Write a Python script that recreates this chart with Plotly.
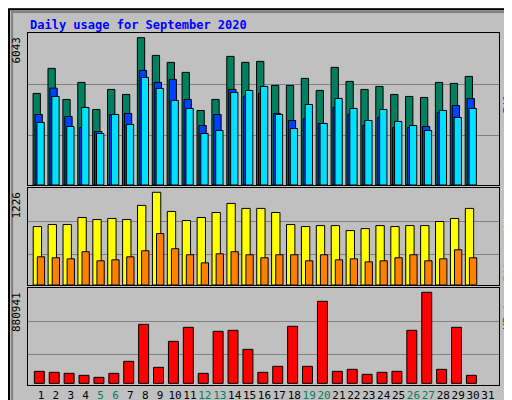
import plotly.graph_objects as go
from plotly.subplots import make_subplots

days = list(range(1, 32))
d30 = list(range(1, 31))
hits = [3757,4784,3510,4209,3099,3921,3715,6043,5318,5031,4620,3058,3510,5277,5031,5072,4085,4085,4373,3880,4825,4250,3921,4044,3715,3633,3592,4209,4168,4455]
files = [2893,3974,2811,2359,2195,2893,2935,4702,4209,4332,3510,2441,2893,3921,3646,3757,2935,2647,2729,2524,3181,2893,2441,2770,2359,2359,2400,2976,3263,3551]
pages = [2565,3633,2400,3181,2113,2893,2482,4414,3962,3469,3140,2113,2236,3798,3880,4044,2893,2318,3304,2524,3551,3140,2647,3099,2606,2441,2236,3058,2770,3140]
visits = [773,800,800,893,866,880,866,1053,1226,973,853,893,959,1079,1013,1013,959,800,773,786,786,720,746,786,773,786,786,840,880,1013]
sites = [373,360,346,440,320,333,373,453,680,480,400,293,413,440,400,360,400,400,320,400,333,346,306,320,360,400,320,346,466,360]
kbytes = [116172,106491,96810,77448,58086,96810,212982,571179,154896,406602,542136,96810,503412,513093,329154,106491,164577,551817,164577,793842,116172,135534,87129,106491,116172,513093,880941,135534,542136,77448]
weekend = {5, 6, 12, 13, 19, 20, 26, 27}

fig = make_subplots(rows=3, cols=1, vertical_spacing=0.0)
line = dict(color="black", width=1)
def bar(y, color, off, w, row):
    fig.add_trace(go.Bar(x=d30, y=y, offset=off, width=w, marker=dict(color=color, line=line)), row=row, col=1)

bar(hits, "#008060", -0.53, 0.49, 1)
bar(files, "#0040FF", -0.40, 0.49, 1)
bar(pages, "#00E0FF", -0.27, 0.49, 1)
bar(visits, "#FFFF00", -0.52, 0.56, 2)
bar(sites, "#FF8000", -0.245, 0.49, 2)
bar(kbytes, "#FF0000", -0.445, 0.67, 3)

doms = [(0.5575, 0.9375), (0.3075, 0.55), (0.0575, 0.30)]
ranges = [[0, 6236], [0, 1283], [-16000, 922600]]
grids = [[2043, 4140], [400, 840], [280740, 600200]]
maxlab = ["6043", "1226", "880941"]
ticktext = [f"<span style='color:#008060'>{d}</span>" if d in weekend else str(d) for d in days]
for i in range(3):
    xa = "xaxis" if i == 0 else f"xaxis{i+1}"
    ya = "yaxis" if i == 0 else f"yaxis{i+1}"
    fig.layout[xa].update(domain=[20/512, 491/512], range=[0.13, 31.74], showgrid=False,
                          zeroline=False, showline=True, mirror=True, linecolor="black", linewidth=1,
                          showticklabels=(i == 2), tickvals=days, ticktext=ticktext, ticks="",
                          tickangle=0,
                          tickfont=dict(family="DejaVu Sans Mono", size=11, color="black"))
    fig.layout[ya].update(domain=list(doms[i]), range=ranges[i], tickvals=grids[i], showticklabels=False,
                          showgrid=True, gridcolor="#808080", gridwidth=1, zeroline=False, ticks="",
                          showline=True, mirror=True, linecolor="black", linewidth=1)
    fig.add_annotation(text=maxlab[i], xref="paper", yref="paper", x=8/512, y=doms[i][1] - 0.005,
                       xanchor="center", yanchor="top", textangle=-90, showarrow=False,
                       font=dict(family="DejaVu Sans Mono", size=11, color="black"))

segs = [
    [("Hits", "#008060"), (" / ", "#404040"), ("Files", "#0040FF"), (" / ", "#404040"), ("Pages", "#00E0FF")],
    [("Visits", "#FFFF00"), (" / ", "#404040"), ("Sites", "#FF8000")],
    [("KBytes", "#FF0000")],
]
CH = 6.6
for i in range(3):
    ytop = (1 - doms[i][1]) * 400 + 2
    n = 0
    for txt, col in segs[i]:
        if txt.strip():
            yc = ytop + (n + len(txt) / 2) * CH
            fig.add_annotation(text=txt, xref="paper", yref="paper", x=500/512, y=1 - yc/400,
                               xanchor="center", yanchor="middle", textangle=-90, showarrow=False,
                               font=dict(family="DejaVu Sans Mono", size=11, color=col))
        else:
            yc = ytop + (n + 1.5) * CH
            fig.add_annotation(text="/", xref="paper", yref="paper", x=500/512, y=1 - yc/400,
                               xanchor="center", yanchor="middle", textangle=-90, showarrow=False,
                               font=dict(family="DejaVu Sans Mono", size=11, color=col))
        n += len(txt)

fig.add_annotation(text="<b>Daily usage for September 2020</b>", xref="paper", yref="paper",
                   x=20/512, y=1 - 8/400, xanchor="left", yanchor="top", showarrow=False,
                   font=dict(family="DejaVu Sans Mono", size=12, color="#0000FF"))
fig.add_shape(type="rect", xref="paper", yref="paper", x0=0.002, y0=0.003, x1=0.998, y1=0.997,
              line=dict(color="black", width=2))
fig.add_shape(type="rect", xref="paper", yref="paper", x0=0.008, y0=0.012, x1=0.992, y1=0.99,
              line=dict(color="#808080", width=2))

fig.update_layout(width=512, height=400, margin=dict(l=0, r=0, t=0, b=0), barmode="overlay",
                  showlegend=False, paper_bgcolor="#C0C0C0", plot_bgcolor="#C0C0C0")
fig.write_html("out.html", config={"displayModeBar": False})
